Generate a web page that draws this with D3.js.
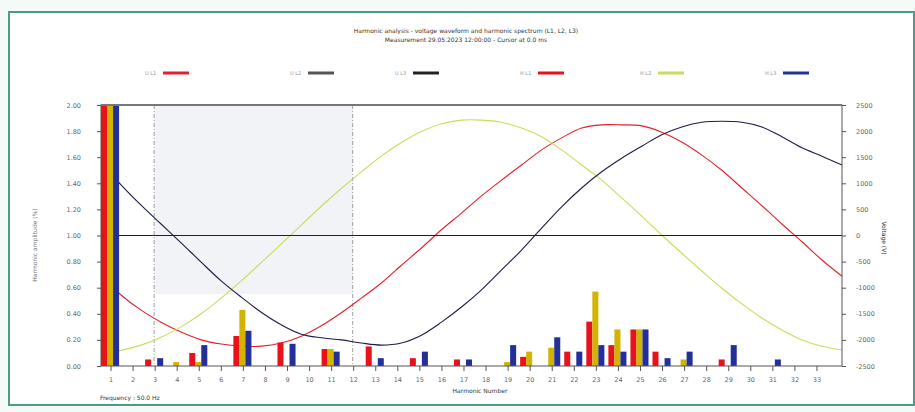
<!DOCTYPE html>
<html>
<head>
<meta charset="utf-8">
<script src="https://cdn.jsdelivr.net/npm/d3@7"></script>
<style>
  body { margin: 0; background: #f4faf8; }
  svg text { font-family: "DejaVu Sans", sans-serif; }
</style>
</head>
<body>
<svg id="chart" width="915" height="412"></svg>
<script>
// harmonic orders shown on the x axis
const harmonics = d3.range(1, 34);
const phases = ["L1", "L2", "L3"];

// harmonic amplitudes per phase (left axis)
const ampL1 = [2.00, 0, 0.05, 0, 0.10, 0, 0.23, 0, 0.18, 0, 0.13, 0, 0.15, 0, 0.06,
               0, 0.05, 0, 0, 0.07, 0, 0.11, 0.34, 0.16, 0.28, 0.11, 0, 0, 0.05, 0, 0, 0, 0];
const ampL2 = [2.00, 0, 0, 0.03, 0.03, 0, 0.43, 0, 0, 0, 0.13, 0, 0, 0, 0,
               0, 0, 0, 0.03, 0.11, 0.14, 0, 0.57, 0.28, 0.28, 0, 0.05, 0, 0, 0, 0, 0, 0];
const ampL3 = [2.00, 0, 0.06, 0, 0.16, 0, 0.27, 0, 0.17, 0, 0.11, 0, 0.06, 0, 0.11,
               0, 0.05, 0, 0.16, 0, 0.22, 0.11, 0.16, 0.11, 0.28, 0.06, 0.11, 0, 0.16, 0, 0.05, 0, 0];

// waveform samples (right axis), one sample per step of the time axis
const waveL1 = [-760, -1140, -1430, -1660, -1850, -2000, -2080, -2120, -2120, -2060, -1930,
                -1730, -1480, -1200, -910, -570, -240, 110, 430, 760, 1060, 1350, 1640, 1870,
                2060, 2120, 2120, 2100, 1980, 1790, 1540, 1250, 910, 570, 220, -120, -470, -780];
const waveL2 = [-2250, -2200, -2100, -1950, -1750, -1500, -1200, -870, -520, -160, 200, 560,
                900, 1220, 1520, 1780, 1990, 2140, 2210, 2210, 2170, 2060, 1890, 1640, 1350,
                1060, 720, 370, 10, -340, -680, -1010, -1310, -1580, -1810, -2000, -2120, -2190];
const waveL3 = [1410, 970, 580, 220, -140, -510, -870, -1180, -1470, -1710, -1890, -1960,
                -2000, -2060, -2100, -2060, -1910, -1660, -1370, -1040, -660, -280, 140, 550,
                910, 1220, 1480, 1710, 1930, 2080, 2170, 2190, 2170, 2080, 1890, 1680, 1520, 1350];
const sampleIndex = d3.range(waveL1.length);

const yTicksLeft = [0, 0.2, 0.4, 0.6, 0.8, 1.0, 1.2, 1.4, 1.6, 1.8, 2.0];
const yTicksRight = [-2500, -2000, -1500, -1000, -500, 0, 500, 1000, 1500, 2000, 2500];

const title1 = "Harmonic analysis - voltage waveform and harmonic spectrum (L1, L2, L3)";
const title2 = "Measurement 29.05.2023 12:00:00 - Cursor at 0.0 ms";
const xTitle = "Harmonic Number";
const yTitleLeft = "Harmonic amplitude (%)";
const yTitleRight = "Voltage (V)";
const footer = "Frequency : 50.0 Hz";

const phaseColors = { L1: "#e8121a", L2: "#d2b400", L3: "#23309a" };
const waveColors = { L1: "#e4202c", L2: "#cbdc58", L3: "#1c1c48" };

const svg = d3.select("#chart");
const W = 915, H = 412;
const margin = { top: 105, right: 73, bottom: 46, left: 101 };

// outer frame
svg.append("rect")
  .attr("x", 9).attr("y", 12).attr("width", W - 10).attr("height", 393)
  .attr("fill", "#fff").attr("stroke", "#4e9a88").attr("stroke-width", 2);

const x = d3.scaleBand()
  .domain(harmonics)
  .range([margin.left - 1, margin.left - 1 + 22.06 * harmonics.length]);
const xPhase = d3.scaleBand()
  .domain(phases)
  .range([1, x.bandwidth() - 3]);
const xTime = d3.scaleLinear()
  .domain([0, sampleIndex.length - 1])
  .range([margin.left, W - margin.right]);
const yL = d3.scaleLinear()
  .domain([0, 2])
  .range([H - margin.bottom, margin.top]);
const yR = d3.scaleLinear()
  .domain([-2500, 2500])
  .range([H - margin.bottom, margin.top]);

// cursor region
svg.append("rect")
  .attr("x", x(3) + 10).attr("y", margin.top)
  .attr("width", x(12) - x(3)).attr("height", yL(0.55) - margin.top)
  .attr("fill", "#f1f3f7");
[3, 12].forEach(h => {
  svg.append("line")
    .attr("x1", x(h) + 10).attr("x2", x(h) + 10)
    .attr("y1", margin.top).attr("y2", H - margin.bottom)
    .attr("stroke", "#888").attr("stroke-dasharray", "4,2,1,2").attr("stroke-width", 0.8);
});

// waveforms
const waves = { L1: waveL1, L2: waveL2, L3: waveL3 };
const line = d3.line()
  .x((d, i) => xTime(i))
  .y(d => yR(d))
  .curve(d3.curveCatmullRom.alpha(0.5));
phases.forEach(p => {
  svg.append("path")
    .datum(waves[p])
    .attr("fill", "none")
    .attr("stroke", waveColors[p])
    .attr("stroke-width", 1.1)
    .attr("d", line);
});

// zero line of the right axis
svg.append("line")
  .attr("x1", margin.left).attr("x2", W - margin.right)
  .attr("y1", yR(0)).attr("y2", yR(0))
  .attr("stroke", "#222").attr("stroke-width", 1);

// harmonic bars
const amps = { L1: ampL1, L2: ampL2, L3: ampL3 };
const bars = [];
harmonics.forEach((h, i) => {
  phases.forEach(p => {
    if (amps[p][i] > 0) bars.push({ h: h, p: p, v: amps[p][i] });
  });
});
svg.append("g")
  .selectAll("rect")
  .data(bars)
  .enter().append("rect")
  .attr("x", d => x(d.h) + xPhase(d.p))
  .attr("width", xPhase.bandwidth())
  .attr("y", d => yL(d.v))
  .attr("height", d => yL(0) - yL(d.v))
  .attr("fill", d => phaseColors[d.p]);

// plot frame
svg.append("rect")
  .attr("x", margin.left).attr("y", margin.top)
  .attr("width", W - margin.right - margin.left)
  .attr("height", H - margin.bottom - margin.top)
  .attr("fill", "none").attr("stroke", "#555").attr("stroke-width", 1);
svg.append("line")
  .attr("x1", margin.left).attr("x2", W - margin.right)
  .attr("y1", margin.top).attr("y2", margin.top)
  .attr("stroke", "#777").attr("stroke-width", 2);

// axes
const axisStyle = g => {
  g.select(".domain").remove();
  g.selectAll("line").attr("stroke", "#555");
  g.selectAll("text").attr("font-size", 6.5).attr("fill", "#666");
};
svg.append("g")
  .attr("transform", `translate(${margin.left},0)`)
  .call(d3.axisLeft(yL).tickValues(yTicksLeft).tickFormat(d3.format(".2f")).tickSize(4).tickPadding(16))
  .call(axisStyle);
svg.append("g")
  .attr("transform", `translate(${W - margin.right},0)`)
  .call(d3.axisRight(yR).tickValues(yTicksRight).tickFormat(d => d).tickSize(4).tickPadding(10))
  .call(axisStyle);
svg.append("g")
  .attr("transform", `translate(0,${H - margin.bottom})`)
  .call(d3.axisBottom(x).tickSize(5).tickPadding(6))
  .call(axisStyle);

// titles
const txt = (x0, y0, s, anchor) => svg.append("text")
  .attr("x", x0).attr("y", y0).attr("text-anchor", anchor || "start")
  .attr("font-size", 6).attr("fill", "#333").text(s);
txt(466, 33, title1, "middle");
txt(466, 42, title2, "middle");
txt(480, 393, xTitle, "middle");
txt(100, 400, footer);
svg.append("text")
  .attr("transform", "translate(37,245) rotate(-90)")
  .attr("text-anchor", "middle").attr("font-size", 6).attr("fill", "#777").text(yTitleLeft);
svg.append("text")
  .attr("transform", "translate(882,238) rotate(90)")
  .attr("text-anchor", "middle").attr("font-size", 6).attr("fill", "#333").text(yTitleRight);

// legend row
const legend = [
  { x: 145, c: waveColors.L1, t: "U L1" },
  { x: 290, c: "#555", t: "U L2" },
  { x: 395, c: "#222", t: "U L3" },
  { x: 520, c: phaseColors.L1, t: "H L1" },
  { x: 640, c: waveColors.L2, t: "H L2" },
  { x: 765, c: phaseColors.L3, t: "H L3" }
];
const lg = svg.append("g").selectAll("g").data(legend).enter().append("g")
  .attr("transform", d => `translate(${d.x},73)`);
lg.append("text").attr("x", 0).attr("y", 2).attr("font-size", 5).attr("fill", "#999").text(d => d.t);
lg.append("line").attr("x1", 18).attr("x2", 44).attr("y1", 0).attr("y2", 0)
  .attr("stroke", d => d.c).attr("stroke-width", 3);
</script>
</body>
</html>
